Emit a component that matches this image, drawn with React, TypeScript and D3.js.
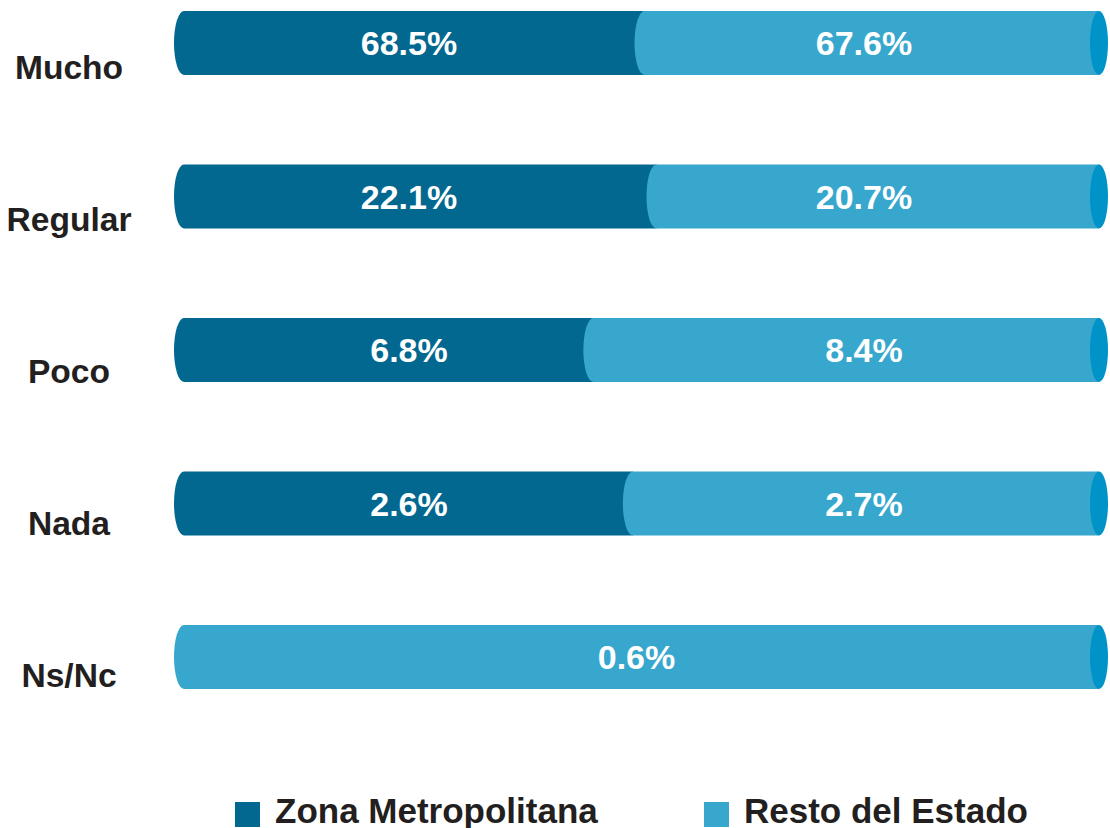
import React from "react";
import * as d3 from "d3";

const categories = ["Mucho", "Regular", "Poco", "Nada", "Ns/Nc"];
const zonaMetropolitana = [68.5, 22.1, 6.8, 2.6, 0];
const restoEstado = [67.6, 20.7, 8.4, 2.7, 0.6];
const seriesNames = ["Zona Metropolitana", "Resto del Estado"];

const W = 1110;
const H = 828;
const DARK = "#02688f";
const LIGHT = "#37a7cd";
const CAP = "#0093c8";
const TEXT = "#231f20";
const FONT = "'Liberation Sans', Arial, Helvetica, sans-serif";

export default function App() {
  const y = d3.scalePoint<string>().domain(categories).range([43, 657]);
  const yLabel = d3.scalePoint<string>().domain(categories).range([79, 687]);
  const x = d3.scaleLinear().domain([0, 1]).range([184, 1099]);
  const barH = 64;
  const rx = 10;
  const ry = barH / 2;
  const mid = (x(0) - rx + x(1)) / 2;

  return (
    <svg
      width={W}
      height={H}
      style={{ position: "absolute", left: 0, top: 0, background: "#fff" }}
      fontFamily={FONT}
    >
      {categories.map((c, i) => {
        const cy = y(c)!;
        const a = zonaMetropolitana[i];
        const b = restoEstado[i];
        const total = a + b;
        const split = total > 0 ? a / total : 0;
        const xs = x(split);
        const segs: { x0: number; x1: number; color: string }[] = [];
        if (a > 0) segs.push({ x0: x(0), x1: xs, color: DARK });
        if (b > 0) segs.push({ x0: a > 0 ? xs : x(0), x1: x(1), color: LIGHT });
        return (
          <g key={c}>
            {segs.map((s, k) => (
              <path
                key={k}
                d={`M${s.x0},${cy - ry} L${s.x1},${cy - ry} L${s.x1},${cy + ry} L${s.x0},${cy + ry} A${rx},${ry} 0 0 1 ${s.x0},${cy - ry} Z`}
                fill={s.color}
              />
            ))}
            <ellipse cx={x(1)} cy={cy} rx={rx - 1} ry={ry} fill={CAP} />
            <text
              x={69}
              y={yLabel(c)!}
              textAnchor="middle"
              fontSize={33.6}
              fontWeight="bold"
              fill={TEXT}
            >
              {c}
            </text>
            {a > 0 && b > 0 ? (
              <>
                <text x={mid - 227.5} y={cy + 12} textAnchor="middle" fontSize={34} fontWeight="bold" fill="#fff">
                  {a.toFixed(1)}%
                </text>
                <text x={mid + 227.5} y={cy + 12} textAnchor="middle" fontSize={34} fontWeight="bold" fill="#fff">
                  {b.toFixed(1)}%
                </text>
              </>
            ) : (
              <text x={mid} y={cy + 12} textAnchor="middle" fontSize={34} fontWeight="bold" fill="#fff">
                {(a > 0 ? a : b).toFixed(1)}%
              </text>
            )}
          </g>
        );
      })}
      {seriesNames.map((n, i) => {
        const lx = [235, 704][i];
        return (
          <g key={n}>
            <rect x={lx} y={802} width={25} height={25} fill={i === 0 ? DARK : LIGHT} />
            <text x={lx + 40} y={823} fontSize={35} fontWeight="bold" fill={TEXT}>
              {n}
            </text>
          </g>
        );
      })}
    </svg>
  );
}
